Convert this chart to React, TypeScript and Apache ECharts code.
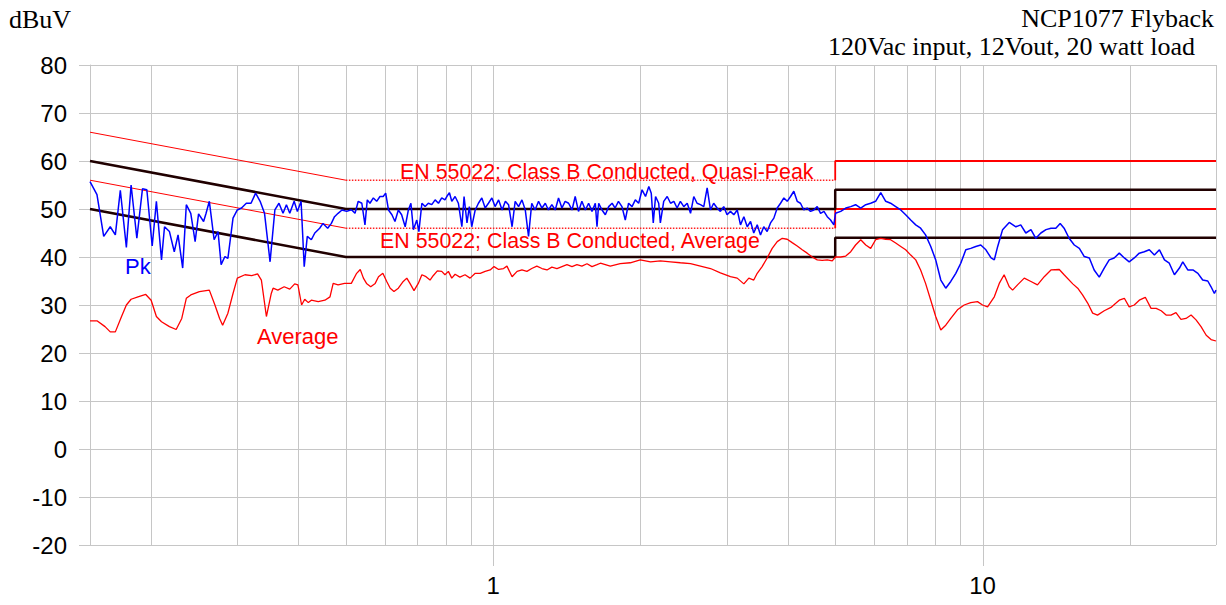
import React, { useEffect, useRef } from 'react';
import * as echarts from 'echarts';

// ---- axis / grid data ----
const yMin = -20;
const yMax = 80;
const yStep = 10;
const freqMin = 0.15;
const freqMax = 30;
const gridFreqs = [0.2, 0.3, 0.4, 0.5, 0.6, 0.7, 0.8, 0.9, 1, 2, 3, 4, 5, 6, 7, 8, 9, 10, 20, 30];
const labeledFreqs = [1, 10];

// ---- EN 55022 Class B limits (MHz, dBuV) ----
const qpLimitSlope = [[0.15, 66], [0.5, 56]];
const qpLimitMid = [[0.5, 56], [5, 56]];
const qpLimitHigh = [[5, 56], [5, 60], [30, 60]];
const avgLimitSlope = [[0.15, 56], [0.5, 46]];
const avgLimitMid = [[0.5, 46], [5, 46]];
const avgLimitHigh = [[5, 46], [5, 50], [30, 50]];
const qpMarginLine = [[0.15, 60], [0.5, 50], [5, 50], [5, 54], [30, 54]];
const avgMarginLine = [[0.15, 50], [0.5, 40], [5, 40], [5, 44], [30, 44]];

// ---- measured peak trace (MHz, dBuV) ----
const peakTrace = [
  [0.150, 55.7], [0.155, 53], [0.160, 44.3], [0.165, 46.3], [0.169, 44.6], [0.173, 53.9], [0.178, 42], [0.182, 55],
  [0.187, 43.9], [0.192, 54.2], [0.196, 54], [0.201, 42.3], [0.205, 51.6], [0.210, 39.4], [0.213, 46.3], [0.218, 45.3],
  [0.223, 41.1], [0.227, 44.6], [0.232, 37.7], [0.236, 50.9], [0.241, 49.1], [0.246, 43.2], [0.250, 49], [0.256, 47.4],
  [0.259, 49.1], [0.263, 51.6], [0.269, 43.6], [0.274, 45.3], [0.278, 38.4], [0.283, 40.1], [0.287, 39.7], [0.294, 48.1],
  [0.300, 49.8], [0.306, 50.2], [0.313, 51.2], [0.320, 51.2], [0.327, 53.3], [0.334, 51.6], [0.341, 49.1], [0.350, 39],
  [0.358, 49.8], [0.365, 51.2], [0.372, 49.1], [0.378, 50.9], [0.384, 49.1], [0.392, 51.6], [0.398, 49.5], [0.405, 51.6],
  [0.411, 38], [0.417, 44.3], [0.425, 43.6], [0.432, 45], [0.442, 46], [0.449, 47], [0.459, 46], [0.467, 47],
  [0.474, 48.4], [0.482, 49.1], [0.491, 49.8], [0.502, 49.5], [0.511, 49.8],
  [0.514, 49.8], [0.522, 49.1], [0.530, 51.6], [0.539, 51.2], [0.547, 46.7], [0.553, 51.9], [0.560, 51.2], [0.569, 52.3],
  [0.578, 51.6], [0.587, 52.6], [0.596, 52.6], [0.603, 53.3], [0.611, 49.8], [0.621, 48.8], [0.630, 47.4], [0.640, 49.8],
  [0.650, 48.8], [0.661, 46.3], [0.671, 49.8], [0.679, 51.2], [0.687, 45.7], [0.698, 47.7], [0.705, 45.3], [0.715, 51.2],
  [0.726, 50.5], [0.737, 51.2], [0.749, 50.9], [0.761, 51.9], [0.773, 51.2], [0.785, 52.3], [0.797, 51.9], [0.804, 52.6],
  [0.814, 53.4], [0.823, 51.6], [0.836, 52.6], [0.849, 51.2], [0.863, 46.3], [0.872, 52.6], [0.884, 47.1], [0.894, 50.5],
  [0.904, 46.3], [0.919, 49.8], [0.933, 51.2], [0.948, 52.3], [0.963, 50.2], [0.978, 51.2], [0.994, 52.3], [1.009, 50.5],
  [1.026, 51.9], [1.043, 49.8], [1.059, 51.6], [1.075, 50.9], [1.093, 46.3], [1.109, 51.6], [1.127, 50.5], [1.145, 51.9],
  [1.163, 49.8], [1.181, 44.3], [1.199, 51.2], [1.218, 49.8], [1.238, 51.6], [1.258, 50.2], [1.278, 51.2], [1.297, 49.8],
  [1.318, 50.9], [1.339, 49.8], [1.360, 52.3], [1.382, 50.2], [1.403, 51.6], [1.426, 51.2], [1.449, 49.8], [1.471, 52.6],
  [1.494, 49.5], [1.518, 51.6], [1.543, 49.8], [1.567, 51.2], [1.592, 49.5], [1.617, 51.2], [1.630, 46.3], [1.643, 51.2],
  [1.669, 49.8], [1.695, 48.8], [1.722, 50.5], [1.750, 51.2], [1.775, 50.2], [1.803, 51.6], [1.833, 50.5], [1.862, 47.7],
  [1.891, 51.2], [1.922, 50.5], [1.952, 51.9], [1.983, 51.2], [2.015, 54], [2.048, 52.6], [2.080, 54.7], [2.104, 53.3],
  [2.124, 47.1], [2.147, 52.6], [2.179, 51.2], [2.196, 47.1], [2.231, 51.6], [2.268, 52.6], [2.304, 51.2], [2.340, 51.6],
  [2.376, 50.2], [2.413, 51.6], [2.452, 50.5], [2.492, 51.2], [2.531, 49.1], [2.570, 52.6], [2.610, 51.2], [2.652, 50.9],
  [2.694, 50.5], [2.737, 54.4], [2.780, 49.8], [2.822, 51.2], [2.868, 50.2], [2.913, 49.5], [2.959, 50.5], [3.006, 48.8],
  [3.054, 49.5], [3.103, 48.8], [3.153, 49.8], [3.202, 46.7], [3.253, 48.4], [3.305, 46.3], [3.357, 47.4], [3.408, 45],
  [3.464, 46.7], [3.518, 44.6], [3.572, 46.3], [3.630, 45.3], [3.688, 47.1], [3.746, 48.1], [3.806, 50.2], [3.866, 51.2],
  [3.927, 52.3], [3.989, 51.6], [4.052, 52.6], [4.115, 53.7], [4.181, 51.6], [4.246, 51.2], [4.313, 49.8], [4.382, 50.2],
  [4.451, 49.5], [4.521, 49.8], [4.594, 50.5], [4.667, 49.1], [4.742, 49.5], [4.816, 48.4], [4.892, 47.7], [4.968, 46.7],
  [5.007, 49.1], [5.131, 49.5], [5.255, 50.2], [5.379, 50.5], [5.503, 50.9], [5.638, 50.2], [5.773, 50.9], [5.908, 51.2],
  [6.047, 51.6], [6.194, 53.4], [6.341, 51.6], [6.488, 51.2], [6.646, 50.5], [6.806, 49.8], [6.965, 48.8], [7.133, 47.7],
  [7.303, 46.7], [7.473, 46], [7.649, 44.6], [7.838, 42.2], [8.023, 39.4], [8.217, 35.2], [8.411, 33.5], [8.612, 34.9],
  [8.818, 36.6], [9.026, 38.7], [9.243, 41.5], [9.461, 41.8], [9.688, 42.2], [9.917, 42.5], [10.16, 41.5], [10.41, 39.8],
  [10.57, 39.4], [10.74, 42.2], [10.99, 45.7], [11.34, 47.2], [11.70, 46.3], [11.97, 46.7], [12.26, 45], [12.56, 45.7],
  [12.85, 43.9], [13.16, 45], [13.48, 45.7], [13.80, 46], [14.12, 46], [14.41, 47], [14.68, 46], [15.03, 43.9],
  [15.40, 42.5], [15.77, 41.8], [16.14, 40.1], [16.53, 39.8], [16.91, 37.3], [17.32, 35.8], [17.73, 37.7], [18.15, 39.4],
  [18.58, 39.8], [19.03, 40.8], [19.49, 39.8], [19.94, 39], [20.42, 39.8], [20.91, 40.8], [21.41, 41.1], [21.92, 41.5],
  [22.45, 40.4], [22.99, 41.5], [23.54, 39.4], [24.08, 38.7], [24.67, 36.3], [25.26, 37.7], [25.66, 39], [26.27, 37.3],
  [26.91, 37.3], [27.55, 36.6], [28.18, 35.2], [28.86, 35], [29.31, 33.8], [29.77, 32.4], [30, 33.1],
];

// ---- measured average trace (MHz, dBuV) ----
const averageTrace = [
  [0.150, 26.7], [0.155, 26.7], [0.161, 25.5], [0.165, 24.4], [0.169, 24.4], [0.174, 27.6], [0.178, 30], [0.182, 31.2],
  [0.188, 31.7], [0.195, 32.2], [0.200, 31], [0.205, 27.6], [0.210, 26.5], [0.218, 25.5], [0.225, 24.9], [0.231, 27.2],
  [0.236, 31.4], [0.241, 32.1], [0.251, 32.8], [0.263, 33.1], [0.270, 30], [0.276, 27.2], [0.280, 25.8], [0.287, 28.3],
  [0.294, 32.4], [0.300, 35.6], [0.311, 36.3], [0.321, 36.1], [0.330, 36.5], [0.336, 35.2], [0.344, 27.6], [0.352, 32.4],
  [0.355, 33.5], [0.363, 33.1], [0.374, 33.8], [0.384, 33.3], [0.393, 34.4], [0.399, 34.2], [0.406, 30], [0.412, 31.2],
  [0.419, 30.5], [0.425, 31], [0.439, 30.7], [0.453, 31], [0.464, 31.7], [0.471, 34.5], [0.482, 34.2], [0.497, 34.5],
  [0.513, 34.5], [0.526, 36.6], [0.535, 37.4], [0.543, 35.6], [0.551, 34.5], [0.562, 33.8], [0.574, 34.5], [0.583, 35.9],
  [0.595, 36.6], [0.606, 34.9], [0.616, 33.5], [0.627, 32.8], [0.640, 33.5], [0.655, 34.9], [0.666, 35.6], [0.676, 34.5],
  [0.689, 33], [0.703, 34.5], [0.715, 36.3], [0.729, 35.9], [0.743, 35.2], [0.754, 36.1], [0.769, 37.1], [0.785, 37],
  [0.797, 36.3], [0.810, 37], [0.823, 35.6], [0.836, 36.4], [0.855, 35.8], [0.876, 36.3], [0.897, 35.6], [0.919, 36.6],
  [0.941, 36.6], [0.963, 37], [0.986, 37.3], [1.004, 38], [1.026, 37.4], [1.050, 37.6], [1.067, 38.1], [1.093, 35.9],
  [1.119, 37], [1.145, 37.3], [1.172, 37], [1.199, 37.6], [1.228, 38.1], [1.258, 37.6], [1.288, 37.3], [1.318, 37.9],
  [1.350, 37.6], [1.382, 38], [1.415, 38.4], [1.449, 38], [1.483, 38.4], [1.518, 38.1], [1.555, 38.6], [1.592, 38],
  [1.630, 38.4], [1.656, 38.7], [1.735, 38.1], [1.818, 38.6], [1.906, 38.8], [1.998, 39.4], [2.097, 39], [2.196, 39.2],
  [2.304, 39], [2.413, 38.8], [2.531, 38.6], [2.652, 38.1], [2.780, 37.6], [2.913, 36.7], [3.054, 35.9], [3.153, 35.6],
  [3.253, 34.4], [3.330, 35.6], [3.408, 35.2], [3.464, 36.6], [3.545, 38], [3.630, 39.8], [3.717, 41.8], [3.806, 43.2],
  [3.897, 43.9], [3.989, 43.7], [4.083, 43], [4.181, 42.3], [4.281, 41.5], [4.382, 40.8], [4.487, 40], [4.594, 39.4],
  [4.702, 39.3], [4.816, 39.4], [4.931, 39.2], [5.007, 40], [5.131, 40], [5.255, 40.2], [5.379, 41.1], [5.503, 42.5],
  [5.638, 43.6], [5.773, 42.5], [5.908, 41.8], [6.047, 43.6], [6.194, 43.9], [6.341, 43.7], [6.488, 43.6], [6.646, 42.9],
  [6.806, 42.2], [6.965, 41.5], [7.133, 40.4], [7.303, 39.4], [7.473, 37.3], [7.649, 34.5], [7.838, 31], [8.023, 27.6],
  [8.217, 24.8], [8.411, 25.8], [8.612, 27.2], [8.888, 29], [9.173, 30], [9.461, 30.5], [9.766, 30.7], [10.0, 30],
  [10.24, 29.6], [10.57, 31.7], [10.82, 34.5], [11.07, 36.3], [11.34, 33.8], [11.52, 33.1], [11.79, 34.2], [12.17, 35.6],
  [12.56, 34.9], [12.95, 34.2], [13.37, 35.9], [13.80, 37.3], [14.35, 37.4], [14.68, 36.3], [15.29, 34.4], [15.65, 33.5],
  [16.01, 32.1], [16.40, 30.4], [16.79, 28.3], [17.18, 27.9], [17.73, 28.8], [18.30, 29.5], [18.74, 30.4], [19.03, 31],
  [19.49, 31.4], [19.94, 29.6], [20.42, 30], [20.91, 31], [21.51, 31.6], [22.10, 29.3], [22.64, 29.3], [23.18, 28.8],
  [23.72, 27.9], [24.27, 27.9], [24.85, 28.4], [25.44, 27], [26.05, 27.2], [26.68, 27.9], [27.31, 26.9], [27.96, 25.5],
  [28.65, 23.7], [29.31, 22.8], [30, 22.5],
];

const GRID_COLOR = '#c6c6c6';
const SANS = '"Liberation Sans", Arial, sans-serif';
const SERIF = '"Liberation Serif", "Times New Roman", serif';

function limitSeries(data: number[][], color: string, width: number, type: string = 'solid') {
  return {
    type: 'line',
    data,
    symbol: 'none',
    silent: true,
    z: 3,
    lineStyle: { color, width, type },
  };
}

export default function App() {
  const ref = useRef<HTMLDivElement>(null);
  useEffect(() => {
    const chart = echarts.init(ref.current!, null, { renderer: 'svg' });
    const option: any = {
      animation: false,
      backgroundColor: '#ffffff',
      grid: { left: 90, right: 10, top: 65, bottom: 60, containLabel: false },
      xAxis: {
        type: 'log',
        logBase: 10,
        min: freqMin,
        max: freqMax,
        axisLine: { show: true, lineStyle: { color: GRID_COLOR, width: 1 } },
        axisTick: { show: false },
        splitLine: { show: false },
        axisLabel: {
          color: '#000',
          fontSize: 24,
          fontFamily: SANS,
          margin: 28,
          formatter: (v: number) =>
            labeledFreqs.some((f) => Math.abs(f - v) < 1e-6) ? String(Math.round(v)) : '',
        },
      },
      yAxis: {
        type: 'value',
        min: yMin,
        max: yMax,
        interval: yStep,
        axisLine: { show: true, lineStyle: { color: GRID_COLOR, width: 1 } },
        axisTick: { show: true, length: 11, lineStyle: { color: GRID_COLOR, width: 1 } },
        splitLine: { show: true, lineStyle: { color: GRID_COLOR, width: 1 } },
        axisLabel: { color: '#000', fontSize: 24, fontFamily: SANS, margin: 23 },
      },
      graphic: [
        { type: 'text', x: 9, y: 19, style: { text: 'dBuV', font: `26px ${SERIF}`, fill: '#000', align: 'left', verticalAlign: 'middle' } },
        { type: 'text', x: 1214, y: 18, style: { text: 'NCP1077 Flyback', font: `26px ${SERIF}`, fill: '#000', align: 'right', verticalAlign: 'middle' } },
        { type: 'text', x: 1195, y: 46, style: { text: '120Vac input, 12Vout, 20 watt load', font: `26px ${SERIF}`, fill: '#000', align: 'right', verticalAlign: 'middle' } },
        { type: 'text', x: 400, y: 171, scaleX: 0.972, z: 10, style: { text: 'EN 55022; Class B Conducted, Quasi-Peak', font: `22px ${SANS}`, fill: '#ff0000', align: 'left', verticalAlign: 'middle' } },
        { type: 'text', x: 380, y: 240, scaleX: 0.972, z: 10, style: { text: 'EN 55022; Class B Conducted, Average', font: `22px ${SANS}`, fill: '#ff0000', align: 'left', verticalAlign: 'middle' } },
        { type: 'text', x: 125, y: 266, z: 10, style: { text: 'Pk', font: `22px ${SANS}`, fill: '#0000ff', align: 'left', verticalAlign: 'middle' } },
        { type: 'text', x: 257, y: 336, z: 10, style: { text: 'Average', font: `22px ${SANS}`, fill: '#ff0000', align: 'left', verticalAlign: 'middle' } },
      ],
      series: [
        {
          type: 'custom',
          silent: true,
          z: 1,
          data: gridFreqs.map((f) => [f, labeledFreqs.includes(f) ? 1 : 0]),
          renderItem: (_params: any, api: any) => {
            const f = api.value(0);
            const top = api.coord([f, yMax]);
            const bot = api.coord([f, yMin]);
            const x = Math.round(top[0]) + 0.5;
            const ext = api.value(1) ? 21 : 0;
            return {
              type: 'line',
              shape: { x1: x, y1: top[1], x2: x, y2: bot[1] + ext },
              style: { stroke: GRID_COLOR, lineWidth: 1 },
            };
          },
        },
        limitSeries(qpLimitSlope, '#ff0000', 1),
        limitSeries(qpLimitMid, '#ff2020', 1.5, 'dotted'),
        limitSeries(qpLimitHigh, '#ff0000', 1.8),
        limitSeries(avgLimitSlope, '#ff0000', 1),
        limitSeries(avgLimitMid, '#ff2020', 1.5, 'dotted'),
        limitSeries(avgLimitHigh, '#ff0000', 1.8),
        limitSeries(qpMarginLine, '#200000', 2.5),
        limitSeries(avgMarginLine, '#200000', 2.5),
        {
          type: 'line',
          name: 'Average',
          data: averageTrace,
          symbol: 'none',
          z: 4,
          lineStyle: { color: '#ff0000', width: 1.3 },
        },
        {
          type: 'line',
          name: 'Pk',
          data: peakTrace,
          symbol: 'none',
          z: 5,
          lineStyle: { color: '#0000ff', width: 1.5 },
        },
      ],
    };
    chart.setOption(option);
    return () => chart.dispose();
  }, []);
  return (
    <div
      ref={ref}
      style={{ position: 'fixed', left: 0, top: 0, width: 1226, height: 605, background: '#fff' }}
    />
  );
}
